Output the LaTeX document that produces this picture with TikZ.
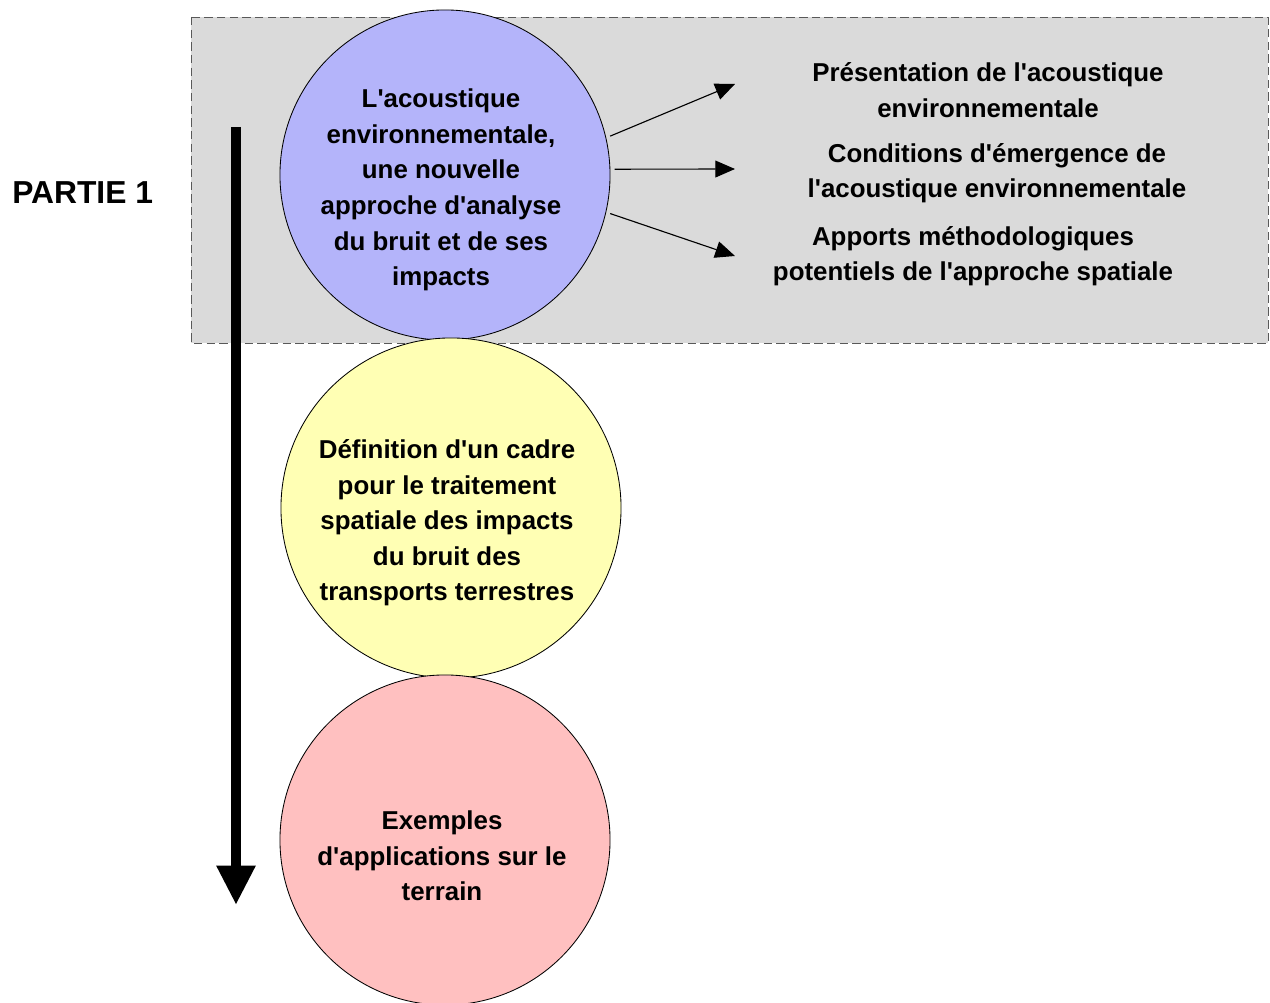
\documentclass[tikz,border=0pt]{standalone}
\usepackage{fontspec}
\setmainfont{Liberation Sans}[Ligatures=TeXOff]
\usetikzlibrary{arrows.meta}

\definecolor{bleuBulle}{RGB}{180,180,250}
\definecolor{jauneBulle}{RGB}{255,255,180}
\definecolor{roseBulle}{RGB}{255,192,192}
\definecolor{grisCadre}{RGB}{218,218,218}

\tikzset{
  bulle/.style={circle, draw=black, line width=0.6pt, inner sep=0pt},
  texte/.style={align=center, font=\fontsize{18.4}{25.3}\selectfont\bfseries},
  fleche/.style={line width=0.8pt, shorten <=3pt, -{Triangle[length=14pt,width=12pt]}},
  grossefleche/.style={line width=7pt, -{Triangle[length=28pt,width=26pt]}}
}

\begin{document}
\begin{tikzpicture}[x=0.025cm, y=-0.025cm]
    \useasboundingbox (0,0) rectangle (1270,1003);

    % Zone de la partie 1
    \draw[fill=grisCadre, draw=black!65, dash pattern=on 6pt off 3pt, line width=0.6pt]
        (191,17) rectangle (1268,343);

    % Les trois bulles
    \node[bulle, fill=bleuBulle, minimum size=8.25cm] (acoustique) at (445,175) {};
    \node[bulle, fill=jauneBulle, minimum size=8.5cm] (cadre) at (451,508) {};
    \node[bulle, fill=roseBulle, minimum size=8.25cm] (exemples) at (445,840) {};

    \node[texte] (acoustiqueTxt) at (441,190) {L'acoustique\\environnementale,\\une nouvelle\\approche d'analyse\\du bruit et de ses\\impacts};
    \node[texte] (cadreTxt) at (447,523) {Définition d'un cadre\\pour le traitement\\spatiale des impacts\\du bruit des\\transports terrestres};
    \node[texte] (exemplesTxt) at (442,856) {Exemples\\d'applications sur le\\terrain};

    % Titre
    \node[font=\fontsize{22.6}{26}\selectfont\bfseries, anchor=west, inner sep=0pt] (partie) at (12,193) {PARTIE 1};

    % Sous-parties
    \node[texte] (pres) at (988,90) {Présentation de l'acoustique\\environnementale};
    \node[texte] (cond) at (997,173) {Conditions d'émergence de\\l'acoustique environnementale};
    \node[texte] (apports) at (973,256) {Apports méthodologiques\\potentiels de l'approche spatiale};

    \coordinate (finPres) at (735,84);
    \coordinate (finCond) at (735,169);
    \coordinate (finApports) at (735,256);

    \draw[fleche] (acoustique.13) -- (finPres);
    \draw[fleche] (acoustique.2) -- (finCond);
    \draw[fleche] (acoustique.-13) -- (finApports);

    % Sens de lecture
    \coordinate (haut) at (236,127);
    \coordinate (bas) at (236,905);
    \draw[grossefleche] (haut) -- (bas);
\end{tikzpicture}
\end{document}
